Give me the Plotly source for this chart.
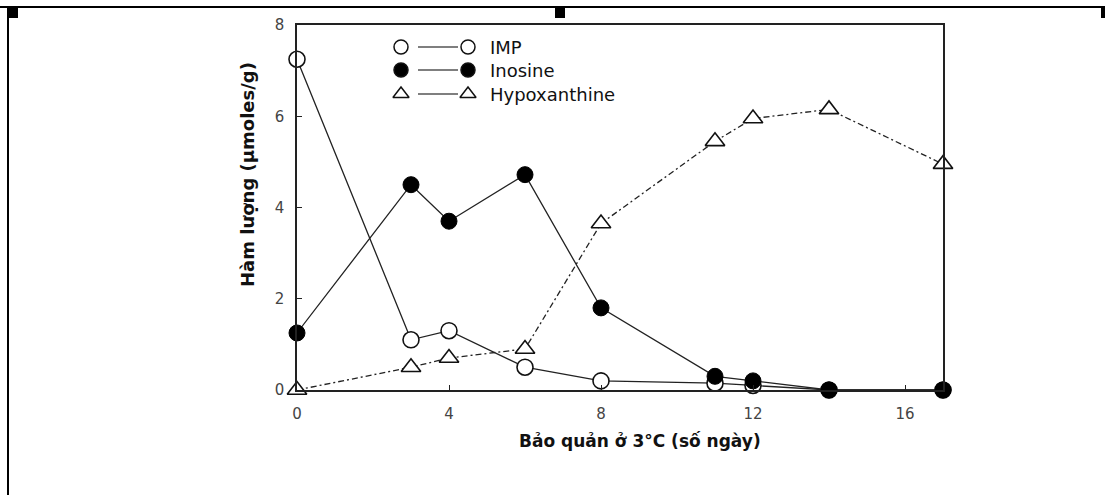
import plotly.graph_objects as go

days = [0, 3, 4, 6, 8, 11, 12, 14, 17]
imp = [7.25, 1.1, 1.3, 0.5, 0.2, 0.15, 0.1, 0.0, 0.0]
inosine = [1.25, 4.5, 3.7, 4.72, 1.8, 0.3, 0.2, 0.0, 0.0]
hypox = [0.0, 0.5, 0.7, 0.9, 3.65, 5.45, 5.95, 6.15, 4.95]
y_ticks = [0, 2, 4, 6, 8]
x_ticks = [0, 4, 8, 12, 16]
series_names = ["IMP", "Inosine", "Hypoxanthine"]

FONT = "DejaVu Sans, Liberation Sans, Arial, sans-serif"
LC = "#222222"

fig = go.Figure()
fig.add_trace(go.Scatter(x=days, y=hypox, mode="lines+markers", name="Hypoxanthine",
                         line=dict(color=LC, width=1.3, dash="6px,3px,2px,3px"),
                         marker=dict(symbol="triangle-up", size=17, color="white",
                                     line=dict(color="#111", width=1.6)), cliponaxis=False))
fig.add_trace(go.Scatter(x=days, y=imp, mode="lines+markers", name="IMP",
                         line=dict(color=LC, width=1.3),
                         marker=dict(symbol="circle", size=16, color="white",
                                     line=dict(color="#111", width=1.6)), cliponaxis=False))
fig.add_trace(go.Scatter(x=days, y=inosine, mode="lines+markers", name="Inosine",
                         line=dict(color=LC, width=1.3),
                         marker=dict(symbol="circle", size=16, color="black",
                                     line=dict(color="black", width=1)), cliponaxis=False))

# custom legend on pixel-like overlay axes
leg_rows = [47, 70, 94]
leg_sym = [("circle", "white"), ("circle", "black"), ("triangle-up", "white")]
for name, yy, (sym, fill) in zip(series_names, leg_rows, leg_sym):
    fig.add_trace(go.Scatter(x=[418, 458], y=[yy, yy], mode="lines", xaxis="x2", yaxis="y2",
                             line=dict(color="#555", width=1.6), showlegend=False, hoverinfo="skip"))
    fig.add_trace(go.Scatter(x=[401, 468], y=[yy, yy], mode="markers", xaxis="x2", yaxis="y2",
                             marker=dict(symbol=sym, size=14, color=fill,
                                         line=dict(color="#111", width=1.5)),
                             showlegend=False, hoverinfo="skip", cliponaxis=False))
    fig.add_annotation(x=488, y=yy, xref="x2", yref="y2", text=name, showarrow=False,
                       xanchor="left", yanchor="middle",
                       font=dict(family=FONT, size=18, color="#111"))

# page frame
fig.add_shape(type="line", xref="paper", yref="paper", x0=-297/646, x1=(1105-297)/646,
              y0=(390-7)/365, y1=(390-7)/365, line=dict(color="black", width=2))
fig.add_shape(type="line", xref="paper", yref="paper", x0=(8-297)/646, x1=(8-297)/646,
              y0=(390-7)/365, y1=(390-495)/365, line=dict(color="black", width=2))
for x0, x1 in [(8, 18), (555, 565), (1101, 1106)]:
    fig.add_shape(type="rect", xref="paper", yref="paper", x0=(x0-297)/646, x1=(x1-297)/646,
                  y0=(390-8)/365, y1=(390-18)/365, fillcolor="black", line=dict(width=0))

fig.add_annotation(x=(640-297)/646, y=(390-441)/365, xref="paper", yref="paper",
                   xanchor="center", yanchor="middle",
                   text="<b>Bảo quản ở 3°C (số ngày)</b>", showarrow=False,
                   font=dict(family=FONT, size=17, color="#111"))
fig.add_annotation(x=(247-297)/646, y=(390-175)/365, xref="paper", yref="paper",
                   xanchor="center", yanchor="middle",
                   text="<b>Hàm lượng (µmoles/g)</b>", showarrow=False, textangle=-90,
                   font=dict(family=FONT, size=18, color="#111"))

fig.update_layout(
    width=1105, height=495,
    margin=dict(l=297, r=162, t=25, b=105),
    paper_bgcolor="white", plot_bgcolor="white",
    showlegend=False,
    xaxis=dict(range=[0, 17], tickvals=x_ticks, ticks="inside", ticklen=5, tickcolor="#222",
               showgrid=False, zeroline=False, showline=True, linecolor="#222", linewidth=1.5,
               mirror=True, tickfont=dict(family=FONT, size=15, color="#444"),
               ticklabelstandoff=9),
    yaxis=dict(range=[0, 8], tickvals=y_ticks, ticks="inside", ticklen=5, tickcolor="#222",
               showgrid=False, zeroline=False, showline=True, linecolor="#222", linewidth=1.5,
               mirror=True, tickfont=dict(family=FONT, size=15, color="#444"),
               ticklabelstandoff=8),
    xaxis2=dict(range=[297, 943], overlaying="x", visible=False, fixedrange=True),
    yaxis2=dict(range=[390, 25], overlaying="y", visible=False, fixedrange=True),
)

fig.write_html("out.html")
